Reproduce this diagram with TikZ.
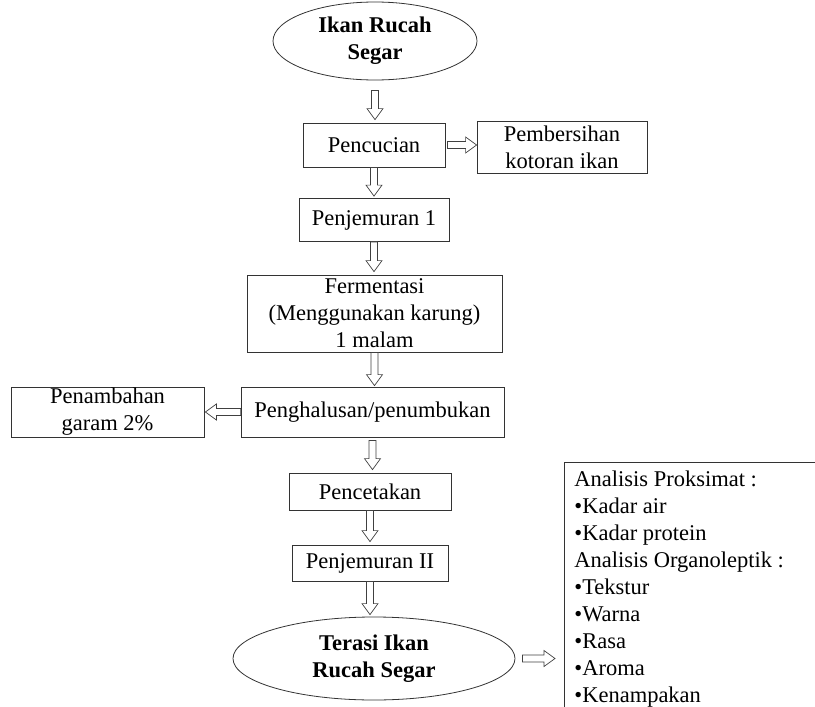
\documentclass[tikz,border=0pt]{standalone}
\usepackage{fontspec}
\setmainfont{Liberation Serif}
\usetikzlibrary{shapes.geometric,calc,positioning}

\tikzset{
  hollow/.style 2 args={draw=black!75,line width=0.7pt,fill=white,
    to path={
      let \p1=($(\tikztostart)!#1!(\tikztotarget)$),
          \p2=($(\tikztotarget)!#2!(\tikztostart)$),
          \n1={atan2(\y2-\y1,\x2-\x1)},
          \n2={veclen(\x2-\x1,\y2-\y1)} in
      {[shift={(\p1)},rotate=\n1]
        (0,-3.5) -- (\n2-11,-3.5) -- (\n2-11,-8) -- (\n2,0) -- (\n2-11,8) -- (\n2-11,3.5) -- (0,3.5) -- cycle}
    }}
}

\begin{document}
\fontsize{22.5}{27}\selectfont
\begin{tikzpicture}[x=1pt,y=-1pt]
\clip (0,0) rectangle (815,707);

\begin{scope}[every node/.style={rectangle,draw=black!80,line width=0.8pt,align=center,inner sep=0pt}]
    \node[ellipse,font=\bfseries,minimum width=204pt,minimum height=78pt] (ikan) at (375,41) {Ikan Rucah\\Segar};
    \node[minimum width=142pt,minimum height=44pt] (cuci) at (374,145) {Pencucian};
    \node[minimum width=170pt,minimum height=52pt] (bersih) at (562,147) {Pembersihan\\kotoran ikan};
    \node[minimum width=150pt,minimum height=43pt] (jemur1) at (374,220) {Penjemuran 1};
    \node[minimum width=255pt,minimum height=77pt] (fermen) at (374.5,313.5) {Fermentasi\\(Menggunakan karung)\\1 malam};
    \node[minimum width=263pt,minimum height=50pt] (halus) at (372.5,412) {Penghalusan/penumbukan};
    \node[minimum width=193pt,minimum height=50pt] (garam) at (107.5,412) {Penambahan\\garam 2\%};
    \node[minimum width=162pt,minimum height=37pt] (cetak) at (370,491.5) {Pencetakan};
    \node[minimum width=156pt,minimum height=36pt] (jemur2) at (370,563) {Penjemuran II};
    \node[ellipse,font=\bfseries,minimum width=282pt,minimum height=83pt] (terasi) at (374,658.5) {Terasi Ikan\\Rucah Segar};
    \node[anchor=north west,align=flush left,text width=270pt,inner xsep=10pt,inner ysep=8pt] (analisis) at (564,462)
        {Analisis Proksimat :\\•Kadar air\\•Kadar protein\\Analisis Organoleptik :\\•Tekstur\\•Warna\\•Rasa\\•Aroma\\•Kenampakan};
\end{scope}

\path (ikan.south) edge[hollow={10pt}{3pt}] (ikan.south |- cuci.north);
\path (cuci.south) edge[hollow={0pt}{2pt}] (cuci.south |- jemur1.north);
\path (jemur1.south) edge[hollow={0pt}{3pt}] (jemur1.south |- fermen.north);
\path (fermen.south) edge[hollow={0pt}{1pt}] (fermen.south |- halus.north);
\path (halus.south) edge[hollow={3pt}{3pt}] (halus.south |- cetak.north);
\path (cetak.south) edge[hollow={0pt}{3pt}] (cetak.south |- jemur2.north);
\path (jemur2.south) edge[hollow={0pt}{2pt}] (jemur2.south |- terasi.north);
\path (cuci.east) edge[hollow={2pt}{0pt}] (cuci.east -| bersih.west);
\path (halus.west) edge[hollow={0pt}{1pt}] (halus.west -| garam.east);
\path (terasi.east) edge[hollow={7pt}{9pt}] (terasi.east -| analisis.west);
\end{tikzpicture}
\end{document}
